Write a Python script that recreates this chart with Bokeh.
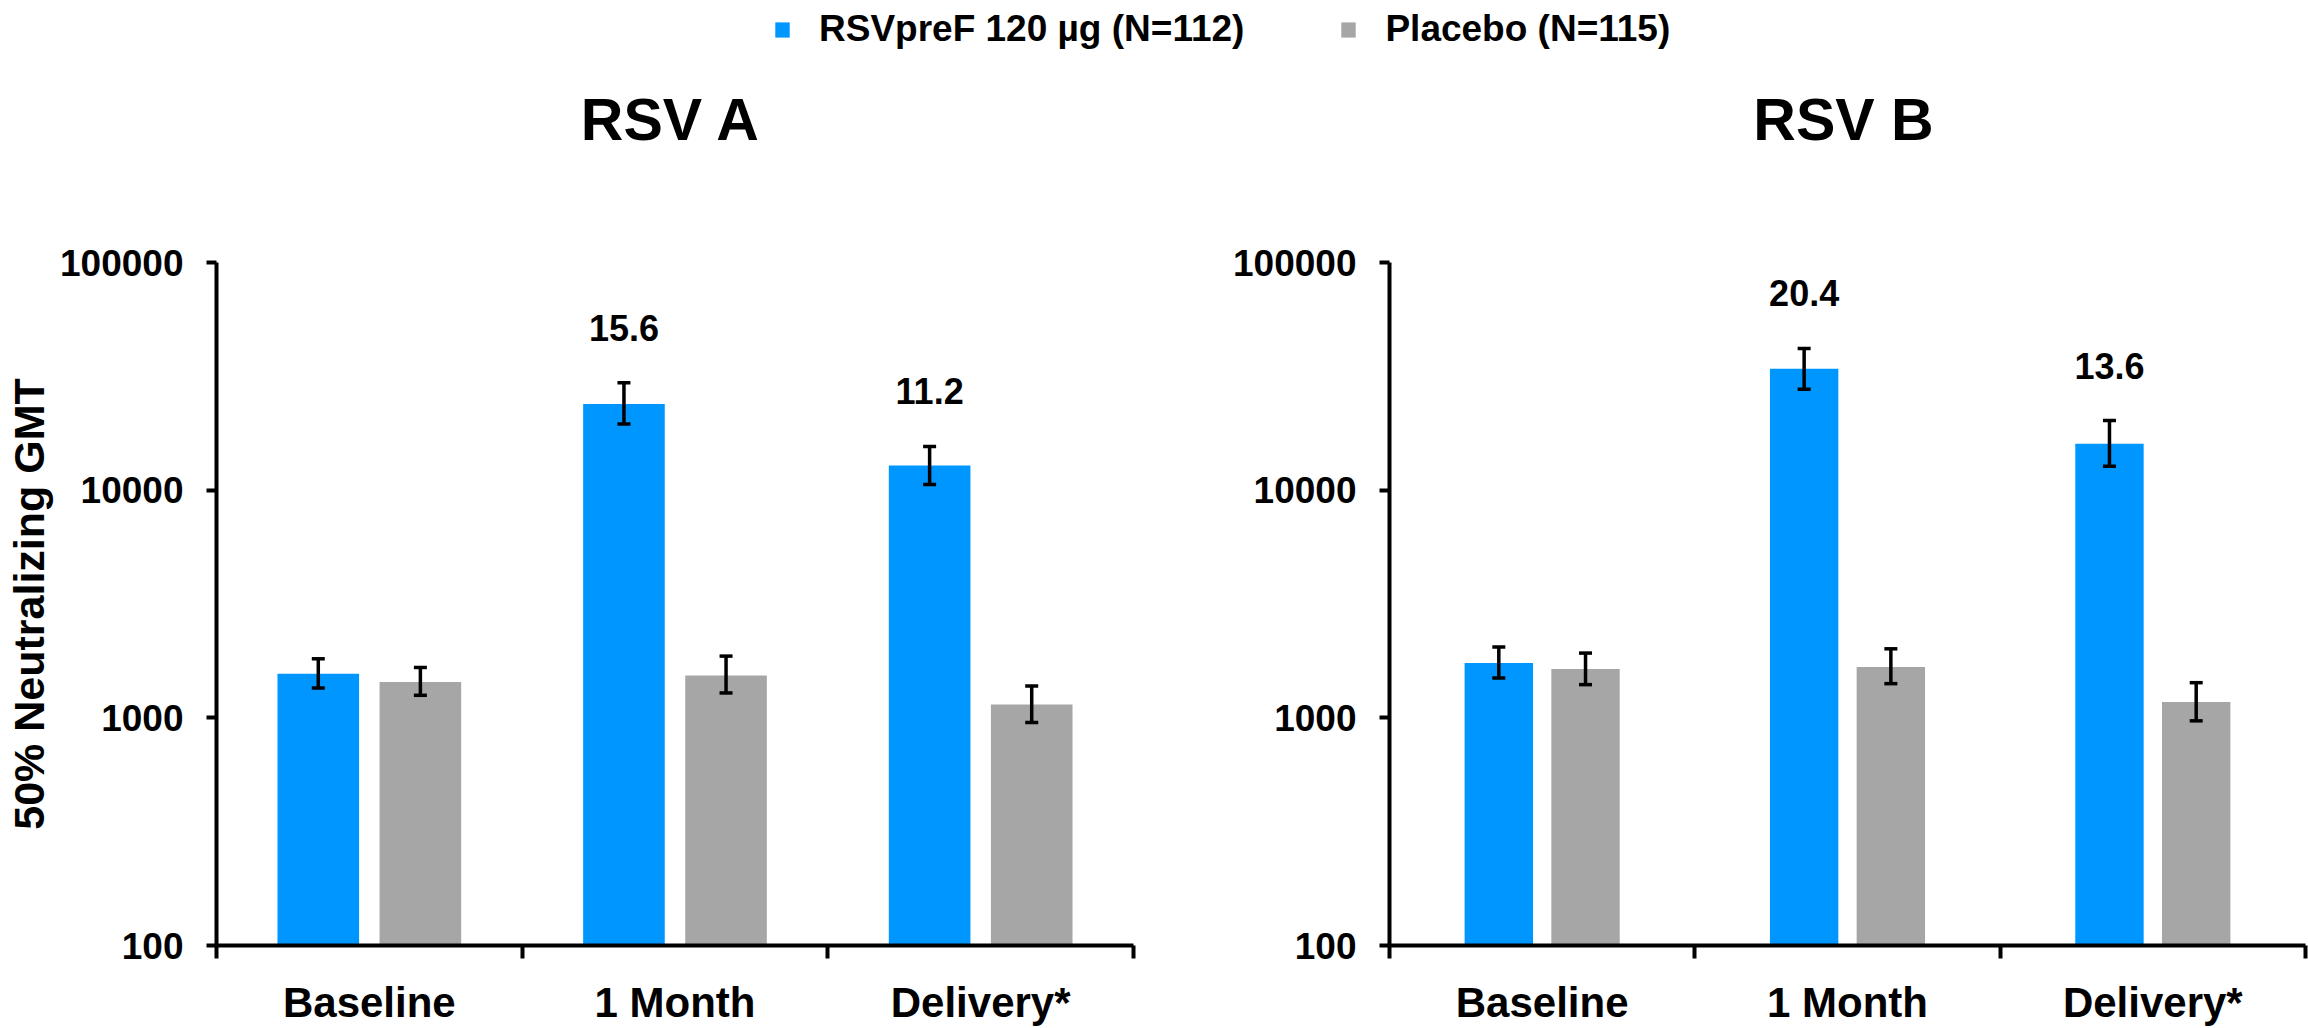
from bokeh.plotting import figure
from bokeh.models import (ColumnDataSource, FixedTicker, NumeralTickFormatter, Whisker,
                          TeeHead, LabelSet, Range1d)
from bokeh.core.properties import value
from bokeh.layouts import column, row
from bokeh.embed import file_html
from bokeh.resources import INLINE

# ---------------- data ----------------
categories = ["Baseline", "1 Month", "Delivery*"]
series_names = ["RSVpreF 120 µg (N=112)", "Placebo (N=115)"]
panel_titles = ["RSV A", "RSV B"]
y_title = "50% Neutralizing GMT"

rsva_vacc = [1563, 23930, 12820]
rsva_vacc_lo = [1352, 19550, 10590]
rsva_vacc_hi = [1817, 29660, 15570]
rsva_plac = [1437, 1536, 1143]
rsva_plac_lo = [1256, 1286, 955]
rsva_plac_hi = [1664, 1867, 1380]
rsva_fold = ["", "15.6", "11.2"]

rsvb_vacc = [1741, 34140, 16000]
rsvb_vacc_lo = [1496, 27730, 12730]
rsvb_vacc_hi = [2045, 41930, 20230]
rsvb_plac = [1639, 1671, 1175]
rsvb_plac_lo = [1399, 1413, 970]
rsvb_plac_hi = [1925, 2010, 1427]
rsvb_fold = ["", "20.4", "13.6"]

y_ticks = [100, 1000, 10000, 100000]

BLUE = "#0096FF"
GREY = "#A6A6A6"
FONT = "Liberation Sans"

# ---------------- layout (pixels) ----------------
PAGE_W, PAGE_H = 2308, 1028
HEAD_H = 200                       # strip holding legend and panel titles
ROW_H = PAGE_H - HEAD_H
LEFT_W, LEFT_MB_L, LEFT_MB_R = 1229, 216, 96
RIGHT_W, RIGHT_MB_L, RIGHT_MB_R = PAGE_W - 1229, 160, 3
MB_TOP, MB_BOTTOM = 62, 80
TITLE_Y = 81                       # title baseline, from bottom of the strip


def panel(vacc, vlo, vhi, plac, plo, phi, fold, width, mb_left, mb_right,
          bar_w, off, ylabel):
    p = figure(width=width, height=ROW_H, x_range=Range1d(0, 3),
               y_range=Range1d(100, 100000), y_axis_type="log",
               toolbar_location=None, output_backend="svg",
               min_border_left=mb_left, min_border_right=mb_right,
               min_border_top=MB_TOP, min_border_bottom=MB_BOTTOM)
    p.outline_line_color = None
    p.grid.visible = False

    n = len(categories)
    xv = [i + 0.5 - off for i in range(n)]
    xp = [i + 0.5 + off for i in range(n)]
    sv = ColumnDataSource(dict(x=xv, top=vacc, lo=vlo, hi=vhi, fold=fold))
    sp = ColumnDataSource(dict(x=xp, top=plac, lo=plo, hi=phi))

    p.vbar(x="x", top="top", bottom=100, width=bar_w, source=sv,
           fill_color=BLUE, line_color=None)
    p.vbar(x="x", top="top", bottom=100, width=bar_w, source=sp,
           fill_color=GREY, line_color=None)

    for s in (sv, sp):
        w = Whisker(base="x", lower="lo", upper="hi", source=s, dimension="height",
                    line_width=3.5, line_color="black", level="overlay",
                    upper_head=TeeHead(size=13, line_width=3.5, line_color="black"),
                    lower_head=TeeHead(size=13, line_width=3.5, line_color="black"))
        p.add_layout(w)

    labels = LabelSet(x="x", y="hi", text="fold", source=sv, text_align="center",
                      text_baseline="alphabetic", y_offset=42,
                      text_font=value(FONT), text_font_size="36px",
                      text_font_style="bold", text_color="black")
    p.add_layout(labels)

    # x axis
    xa = p.xaxis[0]
    xa.ticker = FixedTicker(ticks=[i + 0.5 for i in range(n)],
                            minor_ticks=list(range(n + 1)))
    xa.major_label_overrides = {i + 0.5: c for i, c in enumerate(categories)}
    xa.major_tick_out = 0
    xa.major_tick_in = 0
    xa.minor_tick_out = 13
    xa.minor_tick_in = 0
    xa.minor_tick_line_width = 4
    xa.minor_tick_line_color = "black"
    xa.axis_line_width = 4
    xa.axis_line_color = "black"
    xa.major_label_text_font = FONT
    xa.major_label_text_font_size = "42px"
    xa.major_label_text_font_style = "bold"
    xa.major_label_text_color = "black"
    xa.major_label_standoff = 20

    # y axis
    ya = p.yaxis[0]
    ya.ticker = FixedTicker(ticks=y_ticks)
    ya.formatter = NumeralTickFormatter(format="0")
    ya.major_tick_out = 10
    ya.major_tick_in = 0
    ya.major_tick_line_width = 4
    ya.major_tick_line_color = "black"
    ya.minor_tick_line_color = None
    ya.axis_line_width = 4
    ya.axis_line_color = "black"
    ya.major_label_text_font = FONT
    ya.major_label_text_font_size = "37px"
    ya.major_label_text_font_style = "bold"
    ya.major_label_text_color = "black"
    ya.major_label_standoff = 23
    if ylabel:
        ya.axis_label = ylabel
        ya.axis_label_text_font = FONT
        ya.axis_label_text_font_size = "43px"
        ya.axis_label_text_font_style = "bold"
        ya.axis_label_text_color = "black"
        ya.axis_label_standoff = 4
    return p


left = panel(rsva_vacc, rsva_vacc_lo, rsva_vacc_hi, rsva_plac, rsva_plac_lo,
             rsva_plac_hi, rsva_fold, width=LEFT_W, mb_left=LEFT_MB_L,
             mb_right=LEFT_MB_R, bar_w=0.267, off=0.167, ylabel=y_title)
right = panel(rsvb_vacc, rsvb_vacc_lo, rsvb_vacc_hi, rsvb_plac, rsvb_plac_lo,
              rsvb_plac_hi, rsvb_fold, width=RIGHT_W, mb_left=RIGHT_MB_L,
              mb_right=RIGHT_MB_R, bar_w=0.224, off=0.142, ylabel=None)

# ---------------- header strip: legend + panel titles ----------------
head = figure(width=PAGE_W, height=HEAD_H, x_range=Range1d(0, PAGE_W),
              y_range=Range1d(0, HEAD_H), toolbar_location=None,
              output_backend="svg", min_border=0)
head.axis.visible = False
head.grid.visible = False
head.outline_line_color = None

# title centres = centres of the two plot frames
left_frame_c = LEFT_MB_L + (LEFT_W - LEFT_MB_L - LEFT_MB_R) / 2 - 4
right_frame_c = LEFT_W + RIGHT_MB_L + (RIGHT_W - RIGHT_MB_L - RIGHT_MB_R) / 2 - 4
head.text(x=[left_frame_c, right_frame_c], y=[TITLE_Y] * 2, text=panel_titles,
          text_align="center", text_baseline="alphabetic",
          text_font=value(FONT), text_font_size="59px", text_font_style="bold",
          text_color="black")

# legend swatches come from two placeholder bar renderers outside the view
head.vbar(x=[-50], top=[-50], bottom=[-50], width=1, fill_color=BLUE,
          line_color=None, legend_label=series_names[0])
head.vbar(x=[-50], top=[-50], bottom=[-50], width=1, fill_color=GREY,
          line_color=None, legend_label=series_names[1])
lg = head.legend[0]
lg.orientation = "horizontal"
lg.location = (773, HEAD_H - 50)
lg.border_line_color = None
lg.background_fill_alpha = 0
lg.padding = 0
lg.margin = 0
lg.glyph_width = 18
lg.glyph_height = 19
lg.label_standoff = 28
lg.spacing = 95
lg.label_text_font = FONT
lg.label_text_font_size = "37px"
lg.label_text_font_style = "bold"
lg.label_text_color = "black"

layout = column(head, row(left, right, spacing=0), spacing=0)
open("out.html", "w").write(file_html(layout, INLINE))
